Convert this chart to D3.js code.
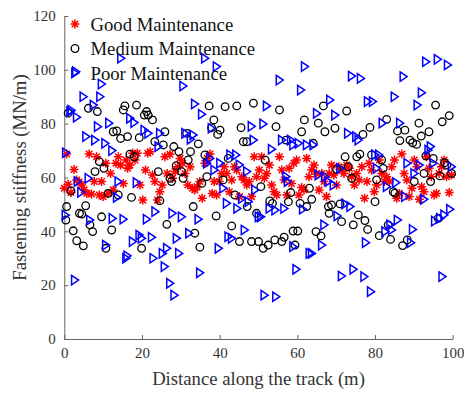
<!DOCTYPE html>
<html>
<head>
<meta charset="utf-8">
<script src="https://cdn.jsdelivr.net/npm/d3@7"></script>
<style>
body { margin: 0; background: #fff; }
text { font-family: "Liberation Serif", "Times New Roman", serif; }
</style>
</head>
<body>
<script>
// values
var goodX = [0,0.6,1,1.7,2.5,3.2,3.8,4.5,5.1,5.8,6.4,7,7.7,8.3,9,9.6,10,10.7,11.3,11.9,12.6,13.3,13.9,14.5,15.2,15.9,16.3,16.9,17.6,18.2,18.8,19.5,20.2,20.9,21.5,22.1,22.7,23.3,24,24.6,25.2,25.9,26.5,27.2,27.9,28.5,29.2,29.8,30.5,31.1,31.8,32.4,33,33.6,34.2,34.9,35.5,36.2,36.8,37.5,38.1,38.6,39.2,39.9,40.5,41.2,41.8,42.5,43.1,43.8,44.4,45.1,45.7,46.3,47,47.6,48.2,48.9,49.5,50.2,50.8,51.5,52.1,52.8,53.4,54,54.7,55.4,56,56.6,57.3,57.9,58.5,59.1,59.8,60.4,61.1,61.7,62.4,63,63.7,64.3,64.9,65.6,66.3,66.9,67.5,68.2,68.8,69.4,70.1,70.7,71.4,72,72.7,73.4,74,74.7,75.3,75.9,76.6,77.3,77.9,78.5,79.1,79.8,80.4,81.1,81.7,82.4,83,83.7,84.3,85,85.6,86.3,86.9,87.5,88.2,88.8,89.5,90.1,90.8,91.4,92,92.6,93.3,93.9,94.5,95.2,95.8,96.5,97.1,97.8,98.4,99.1,99.7];
var goodY = [56,68.7,57.5,54.4,63,59.1,58.3,57.2,55.4,54.1,68.7,53.9,58.5,67.7,53.5,58.5,52.9,65.3,54.1,61.5,55.4,65.3,67.7,64.6,57.8,66.5,63.4,64.6,69,66.5,69,57.2,51.6,62.8,69,69.6,60.9,58.5,51.6,54.7,57.2,67.7,61.5,68.6,59.7,62.2,64,67.1,65.3,61.5,57.2,64,56,55.4,56.6,58.5,52.3,65.3,67.1,68.7,54.1,58.5,53.5,58.5,61.5,64,61.5,54.7,59.1,64,62.8,52.9,60.3,59.1,57.2,58.5,52.9,67.7,60.3,62.8,67.7,59.7,61.5,64.6,57.2,54.7,53.5,67.7,62.8,59.1,53.5,63.4,57.8,65.3,66.5,53.5,56.3,55.4,67.1,60.3,62.8,64.6,61.3,55.4,61.5,58.5,52.9,61.5,64.6,60.9,57.2,64,62.8,61.5,64.6,63.4,60.3,57.2,61.5,59.1,64,52.3,58.5,65.3,62.8,54.7,57.2,66.5,61.5,58.5,60.3,58.5,64,66.5,52.3,54.1,68.7,61.5,59.1,52.9,56,66.5,64,51.9,56.6,54.7,67.7,63.4,60.3,53.5,54.1,61.5,64,66.5,60.3,54.4,60.9];

var medX = [0.4,0.6,1,1.7,2.3,3.2,3.9,4.5,4.9,5.5,6.2,6.6,7.3,7.9,8.5,9,9.6,10.2,10.7,11.3,12.2,12.6,13.5,13.9,14.5,15.2,15.6,16.3,16.9,17.3,18,18.6,19.3,19.9,20.6,21.2,21.6,22.7,23.3,24.2,24.6,25.5,25.9,26.4,27.2,27.6,28.2,28.8,29.5,30.2,30.6,31.5,31.9,32.5,33.2,33.6,34.5,34.9,35.4,36.2,36.7,37.3,37.9,38.5,39.1,39.5,40.1,40.9,41.4,42.2,43.1,43.9,44.4,45.1,45.5,46.1,47,47.1,48.2,48.7,49.5,50,50.6,51.2,51.7,52.5,52.9,53.6,54.2,54.5,55.4,56,56.6,57.1,57.7,58.3,58.9,59.4,60.1,60.7,61.1,61.8,62.4,63.1,63.7,64.1,64.8,65.4,66.1,66.7,67.1,68,68.2,68.8,69.7,70.1,71,71.4,72.3,72.7,73.1,74,74.4,75.3,75.7,76.1,76.9,77.4,78.1,78.7,79.1,80,80.4,81.1,81.7,82.1,83,83.4,84,84.7,85.1,85.8,86.4,87.1,87.7,88.3,89,89.7,90.1,90.7,91.3,91.9,92.6,93.1,93.9,94.3,95,95.6,96.3,96.7,97.3,97.9,98.5,99.1,99.7];
var medY = [44.2,49.2,83.9,55,40.2,36.5,46.7,46.4,34.6,49.5,85.7,42.4,39.9,62.2,84.5,65.9,45.4,63.4,33.7,54.1,40.5,77,77.3,53.5,74.5,85.1,86.6,75.2,68.7,52.6,67.7,86.9,74.8,33.7,83.2,84.5,83.2,81.4,73.3,62.2,51.4,72.1,77,42.6,59.7,58.5,71.5,64.4,69.6,62.2,59.7,76.4,66.5,69.6,49.2,39.3,72.5,34.1,57.8,68.4,60.3,86.6,78.5,81.4,45.7,76,77.6,59.1,86.3,67.1,42,53.5,86.6,36.2,78.5,73.3,73.3,49.2,36.2,87.6,46.7,36.2,56.6,33.7,66.5,34.9,51.3,50.4,36.8,78.9,85.1,36.2,37.8,73.9,51,54.4,40.1,34.9,40.1,50.4,77,81.4,49.2,56,51.9,72.7,39.9,80.2,38.3,86.6,77,49.2,46.7,49.8,78.3,63,50.2,43.6,67.7,84.7,64,59.7,42.4,67.7,46.1,68.7,76,44,40.7,78.6,68.4,51,59.1,38.4,66.5,63.4,81.6,42.4,37,54.7,54.2,77.3,73.7,34.7,77.6,36.8,73.9,72.9,58.5,72.3,80.2,75.4,61.5,68,77,58.5,67.1,86.9,44.8,60.6,80.7,65.5,64.6,83,61.5];

var poorX = [0.3,0.4,1.5,1.8,2.7,3,3.2,3.4,4.3,4.9,5.6,6.2,6.6,7.5,7.9,8.6,9.2,9.6,10.5,10.7,11.5,12.3,12.4,13.5,13.9,14.6,15.2,15.9,16.2,16.9,17.6,18,18.6,19.3,19.9,20.6,21.2,21.6,22.5,22.9,23.4,24.2,24.6,25.3,25.8,26.4,27.2,27.8,28.3,28.9,29.5,30.2,30.6,31.1,32.1,32.5,33.2,33.6,34.5,34.9,35.4,36.2,36.7,37.5,37.9,38.6,39.2,39.7,40.1,40.9,41.8,42.2,42.7,43.1,44.2,44.5,45.1,45.7,46.4,47,47.4,48.2,48.7,49.1,50,50.6,51.2,51.5,52.1,52.8,53.4,54.3,54.5,55.4,56,56.6,57.1,57.5,58.3,58.9,58.9,59.7,60.3,60.9,61.4,61.9,62.4,63.1,63.7,64.1,65,65.4,66.3,66.9,67.1,68,68.4,69.3,69.7,70.3,71,71.4,72.3,73,73.6,74,74.4,75.1,75.7,76.3,77.2,77.6,78.1,78.9,79.4,80,80.4,81,81.9,82.6,83,83.9,84.3,85,85.4,85.8,86.4,87.3,87.7,88.3,89.2,89.7,90.1,90.9,91.4,92,92.6,93.1,93.7,94.3,95,95.4,96.1,96.7,97.3,97.8,98.7,99.3,99.7];
var poorY = [46,69.2,84.5,85,21.9,99.3,82.4,58.5,54.5,90,75.2,59.7,44.2,86.9,73.9,78.9,90,94.7,72.7,34.9,80.2,70,44.8,52.6,58.5,104.3,44.5,30,30.9,82,36.2,80.4,58.1,38.6,37.4,77.6,44.5,76.4,37.8,30,47.3,71.5,76.4,31.8,26.9,33.7,20.7,46.7,16.3,37.4,31.8,45.4,94,76.4,39.3,74.2,75.8,87.3,44.5,24.6,83.5,104.3,65.3,67.1,78.3,62.8,101.2,33.7,65.3,56,50.4,38,68.4,37.4,68.4,48.5,64.7,52.1,40.5,62.2,51,79,73.9,55.4,45.4,45.4,79.9,16.3,86.6,48.5,70.5,47.9,15.7,96.2,73.9,48.5,60.3,58.5,73.9,72.1,34.3,25.9,72.7,92.5,48.2,101.2,72.1,31.8,31.8,72.1,83.8,60.9,34.9,42.4,60.3,58.5,88.8,57.2,83.2,45.7,63.4,23.4,50.2,76.4,49.2,97.7,25.9,75.2,73.9,96.8,23.2,35.8,88.2,17.6,88.2,68.4,63.4,68.4,80.2,39.9,56.6,42.4,40.5,90,58.1,44.2,80.2,97.5,52.9,65.3,35.8,40.7,61.5,86.9,64.6,91.5,51.9,103,70.2,71.5,65.3,43.8,103.9,44.8,23.2,46.1,101.8,48.2,64];

var xTicks = [0, 20, 40, 60, 80, 100];
var yTicks = [0, 20, 40, 60, 80, 100, 120];
var legendLabels = ["Good Maintenance", "Medium Maintenance", "Poor Maintenance"];

var W = 464, H = 394;
var serif = "'Liberation Serif', 'Times New Roman', serif";
var svg = d3.select("body").append("svg")
	.attr("width", W)
	.attr("height", H)
	.attr("font-family", serif);

var x = d3.scaleLinear().domain([0, 100]).range([64.3, 452.7]);
var y = d3.scaleLinear().domain([0, 120]).range([339, 16]);

var axisColor = "#666";

var gx = svg.append("g")
	.attr("transform", "translate(0," + y(0) + ")")
	.call(d3.axisBottom(x).tickValues(xTicks).tickSizeInner(-4).tickSizeOuter(0).tickPadding(8));
var gy = svg.append("g")
	.attr("transform", "translate(" + x(0) + ",0)")
	.call(d3.axisLeft(y).tickValues(yTicks).tickSizeInner(-4).tickSizeOuter(0).tickPadding(8.5));

[gx, gy].forEach(function(g) {
	g.attr("font-family", serif).attr("font-size", 15);
	g.select(".domain").attr("stroke", axisColor).attr("stroke-width", 1);
	g.selectAll(".tick line").attr("stroke", axisColor);
	g.selectAll(".tick text").attr("fill", "#333");
});

// markers
function star(g, cx, cy) {
	var s = 4.5, d = s * 0.72;
	g.append("path")
		.attr("transform", "translate(" + cx + "," + cy + ")")
		.attr("d", "M" + (-s) + ",0H" + s + "M0," + (-s) + "V" + s +
			"M" + (-d) + "," + (-d) + "L" + d + "," + d +
			"M" + (-d) + "," + d + "L" + d + "," + (-d))
		.attr("stroke", "#ff0000")
		.attr("stroke-width", 1.5)
		.attr("fill", "none");
}
function circ(g, cx, cy) {
	g.append("circle")
		.attr("cx", cx).attr("cy", cy).attr("r", 3.8)
		.attr("fill", "none").attr("stroke", "#000").attr("stroke-width", 1.3);
}
function tri(g, cx, cy) {
	g.append("path")
		.attr("d", "M" + (cx - 3.2) + "," + (cy - 4.7) + "L" + (cx + 3.8) + "," + cy + "L" + (cx - 3.2) + "," + (cy + 4.7) + "Z")
		.attr("fill", "none").attr("stroke", "#0000ff").attr("stroke-width", 1.5);
}

var pts = svg.append("g");
goodX.forEach(function(d, i) { star(pts, x(d), y(goodY[i])); });
medX.forEach(function(d, i) { circ(pts, x(d), y(medY[i])); });
poorX.forEach(function(d, i) { tri(pts, x(d), y(poorY[i])); });

// legend
var lg = svg.append("g");
var markers = [star, circ, tri];
legendLabels.forEach(function(t, i) {
	var ly = 24 + i * 24.5;
	markers[i](lg, 75, ly);
	lg.append("text")
		.attr("x", 90.5)
		.attr("y", ly + 6.5)
		.attr("fill", "#111")
		.attr("font-size", 18.7)
		.text(t);
});

// axis labels
svg.append("text")
	.attr("x", x(50))
	.attr("y", 385)
	.attr("text-anchor", "middle")
	.attr("fill", "#333")
	.attr("font-size", 18.7)
	.text("Distance along the track (m)");

svg.append("text")
	.attr("transform", "translate(26," + y(60) + ") rotate(-90)")
	.attr("text-anchor", "middle")
	.attr("fill", "#333")
	.attr("font-size", 18.7)
	.text("Fastening stiffness (MN/m)");
</script>
</body>
</html>
